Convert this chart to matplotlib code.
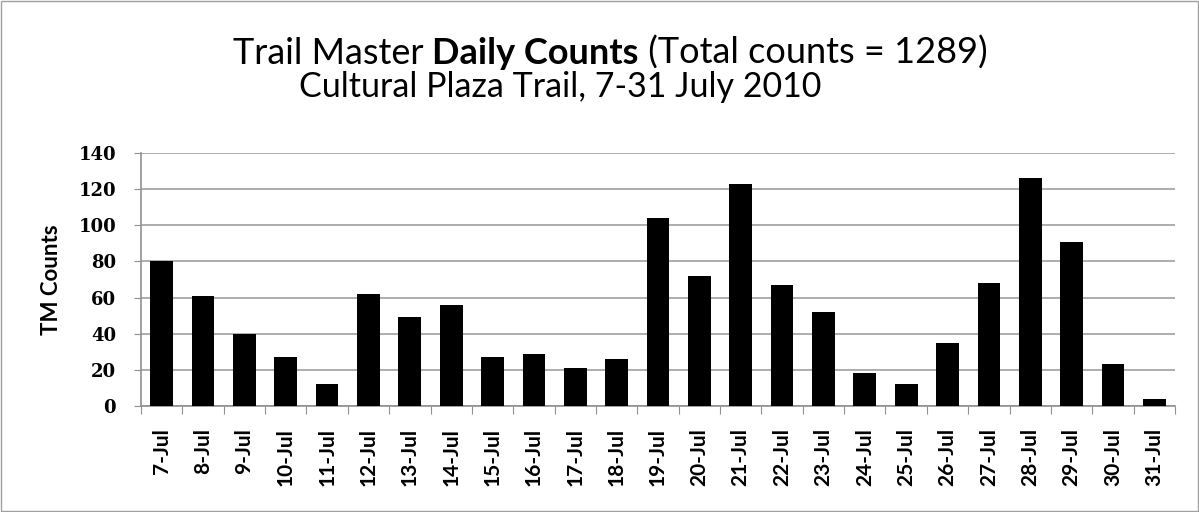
import numpy as np
import matplotlib.pyplot as plt
from matplotlib.patches import Rectangle

days = ["7-Jul", "8-Jul", "9-Jul", "10-Jul", "11-Jul", "12-Jul", "13-Jul", "14-Jul",
        "15-Jul", "16-Jul", "17-Jul", "18-Jul", "19-Jul", "20-Jul", "21-Jul", "22-Jul",
        "23-Jul", "24-Jul", "25-Jul", "26-Jul", "27-Jul", "28-Jul", "29-Jul", "30-Jul", "31-Jul"]
counts = [80, 61, 40, 27, 12, 62, 49, 56, 27, 29, 21, 26, 104, 72, 123, 67,
          52, 18, 12, 35, 68, 126, 91, 23, 4]
y_ticks = [0, 20, 40, 60, 80, 100, 120, 140]

title_parts = [("Trail Master ", "normal"), ("Daily Counts", "bold"),
               (" (Total counts = 1289)", "normal")]
subtitle = "Cultural Plaza Trail, 7-31 July 2010"

SANS = "Lato"

fig = plt.figure(figsize=(11.99, 5.12), dpi=100)
fig.patches.append(Rectangle((0.001, 0.002), 0.998, 0.996, transform=fig.transFigure,
                             fill=False, edgecolor="#a0a0a0", linewidth=1))

ax = fig.add_axes([0.1176, 0.207, 0.8624, 0.494])
x = np.arange(len(days))
ax.bar(x, counts, width=0.55, color="black", zorder=3)
ax.set_xlim(-0.5, len(days) - 0.5)
ax.set_ylim(0, 140)
ax.set_yticks(y_ticks)
ax.grid(axis="y", color="#a0a0a0", linewidth=1.2, zorder=0)

for s in ["top", "right"]:
    ax.spines[s].set_visible(False)
for s in ["left", "bottom"]:
    ax.spines[s].set_color("#909090")
    ax.spines[s].set_linewidth(1.2)

# ticks between categories, labels under bars
ax.set_xticks(np.arange(len(days) + 1) - 0.5)
ax.set_xticklabels([])
ax.set_xticks(x, minor=True)
ax.set_xticklabels(days, minor=True, rotation=90, fontfamily=SANS,
                   fontweight="bold", fontsize=15)
ax.tick_params(axis="x", which="minor", length=0, pad=16)
ax.tick_params(axis="x", which="major", length=6, color="#909090", direction="out")
ax.tick_params(axis="y", length=5, color="#909090", pad=13)
for lbl in ax.get_yticklabels():
    lbl.set_fontfamily("DejaVu Serif")
    lbl.set_fontweight("bold")
    lbl.set_fontsize(13)
ax.set_ylabel("TM Counts", fontfamily=SANS, fontweight="bold", fontsize=16, labelpad=12)

# title with a bold middle part
fig.canvas.draw()
renderer = fig.canvas.get_renderer()


def place_line(parts, size, y, center_px):
    texts = [fig.text(0, y, txt, fontfamily=SANS, fontweight=w, fontsize=size,
                      ha="left", va="baseline") for txt, w in parts]
    widths = [t.get_window_extent(renderer).width for t in texts]
    start = center_px - sum(widths) / 2
    for t, w in zip(texts, widths):
        t.set_x(start / fig.bbox.width)
        start += w


place_line(title_parts, 26, 1 - 64 / 512, 610)
place_line([(subtitle, "normal")], 24.5, 1 - 97 / 512, 560)

fig.savefig("out.png", dpi=100)
